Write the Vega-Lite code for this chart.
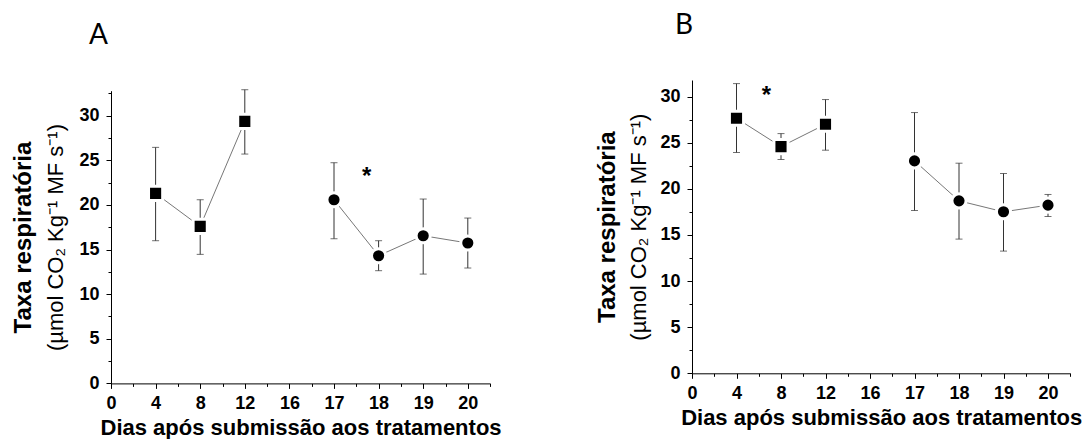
{
  "$schema": "https://vega.github.io/schema/vega-lite/v6.json",
  "background": "white",
  "padding": {"left": 11, "top": 12, "right": 0, "bottom": 0},
  "config": {
    "view": {"stroke": null},
    "font": "Liberation Sans",
    "axis": {"grid": false, "domainColor": "black", "tickColor": "black", "labelColor": "black", "titleColor": "black", "labelFont": "Liberation Sans", "titleFont": "Liberation Sans", "labelFontWeight": "bold", "labelFontSize": 18, "labelFlush": false, "labelOverlap": false}
  },
  "bounds": "flush",
  "spacing": 201,
  "hconcat": [
    {
      "width": 379.1,
      "height": 303.4,
      "title": {"text": "A", "anchor": "start", "frame": "group", "font": "Lato", "fontSize": 28, "fontWeight": "normal", "color": "black", "dx": -22, "offset": 30},
      "data": {"values": [
        {"dia": 4, "taxa": 21.29, "lo": 15.99, "hi": 26.45, "grupo": "1"},
        {"dia": 8, "taxa": 17.59, "lo": 14.46, "hi": 20.58, "grupo": "1"},
        {"dia": 12, "taxa": 29.36, "lo": 25.70, "hi": 32.91, "grupo": "1"},
        {"dia": 17, "taxa": 20.58, "lo": 16.21, "hi": 24.73, "grupo": "2"},
        {"dia": 18, "taxa": 14.31, "lo": 12.63, "hi": 15.99, "grupo": "2"},
        {"dia": 19, "taxa": 16.55, "lo": 12.25, "hi": 20.66, "grupo": "2"},
        {"dia": 20, "taxa": 15.73, "lo": 12.93, "hi": 18.53, "grupo": "2"}
      ]},
      "resolve": {"axis": {"x": "independent", "y": "independent"}},
      "layer": [
        {
          "mark": {"type": "point", "opacity": 0},
          "encoding": {
            "x": {"field": "dia", "type": "quantitative", "scale": {"domain": [0, 16, 20, 20.5], "range": [0, 178.4, 356.8, 379.1], "nice": false, "zero": false},
              "axis": {"orient": "bottom", "values": [2, 6, 10, 14, 16.5, 17.5, 18.5, 19.5, 20.5], "labels": false, "domain": false, "tickSize": 3, "title": null}},
            "y": {"field": "taxa", "type": "quantitative", "scale": {"domain": [0, 32.8], "range": [303.4, 10.7], "nice": false, "zero": false},
              "axis": {"orient": "left", "values": [2.5, 7.5, 12.5, 17.5, 22.5, 27.5, 32.5], "labels": false, "domain": false, "tickSize": 3, "title": "Taxa respiratória", "titleFontSize": 24, "titleFontWeight": "bold", "titlePadding": 72}}
          }
        },
        {
          "mark": {"type": "rule", "color": "#333333", "strokeWidth": 1},
          "encoding": {
            "x": {"field": "dia", "type": "quantitative",
              "axis": {"orient": "bottom", "values": [0, 4, 8, 12, 16, 17, 18, 19, 20], "tickSize": 5, "labelPadding": 6, "title": "Dias após submissão aos tratamentos", "titleFontSize": 22, "titleFontWeight": "bold", "titlePadding": 5}},
            "y": {"field": "lo", "type": "quantitative",
              "axis": {"orient": "left", "values": [0, 5, 10, 15, 20, 25, 30], "tickSize": 5, "labelPadding": 7, "title": "(µmol CO₂ Kg⁻¹ MF s⁻¹)", "titleFontSize": 22, "titleFontWeight": "normal", "titlePadding": 11}},
            "y2": {"field": "hi"}
          }
        },
        {
          "mark": {"type": "tick", "orient": "horizontal", "size": 7, "thickness": 1, "color": "#333333"},
          "encoding": {"x": {"field": "dia", "type": "quantitative", "axis": null}, "y": {"field": "lo", "type": "quantitative", "axis": null}}
        },
        {
          "mark": {"type": "tick", "orient": "horizontal", "size": 7, "thickness": 1, "color": "#333333"},
          "encoding": {"x": {"field": "dia", "type": "quantitative", "axis": null}, "y": {"field": "hi", "type": "quantitative", "axis": null}}
        },
        {
          "mark": {"type": "line", "color": "#777777", "strokeWidth": 1},
          "encoding": {"x": {"field": "dia", "type": "quantitative", "axis": null}, "y": {"field": "taxa", "type": "quantitative", "axis": null}, "detail": {"field": "grupo"}}
        },
        {
          "mark": {"type": "point", "filled": true, "fill": "black", "stroke": "white", "strokeWidth": 3, "size": 200, "opacity": 1},
          "encoding": {"x": {"field": "dia", "type": "quantitative", "axis": null}, "y": {"field": "taxa", "type": "quantitative", "axis": null},
            "shape": {"field": "grupo", "type": "nominal", "scale": {"domain": ["1", "2"], "range": ["square", "circle"]}, "legend": null}}
        },
        {
          "data": {"values": [{"dia": 17.73, "taxa": 23.83, "sinal": "*"}]},
          "mark": {"type": "text", "font": "Liberation Sans", "fontWeight": "bold", "fontSize": 24, "baseline": "middle", "dy": 6.5, "color": "black"},
          "encoding": {"x": {"field": "dia", "type": "quantitative", "axis": null}, "y": {"field": "taxa", "type": "quantitative", "axis": null}, "text": {"field": "sinal"}}
        }
      ]
    },
    {
      "width": 378.3,
      "height": 293.3,
      "title": {"text": "B", "anchor": "start", "frame": "group", "font": "Lato", "fontSize": 28, "fontWeight": "normal", "color": "black", "dx": -17, "offset": 40},
      "data": {"values": [
        {"dia": 4, "taxa": 27.65, "lo": 23.94, "hi": 31.41, "grupo": "1"},
        {"dia": 8, "taxa": 24.58, "lo": 23.18, "hi": 25.99, "grupo": "1"},
        {"dia": 12, "taxa": 27.0, "lo": 24.19, "hi": 29.68, "grupo": "1"},
        {"dia": 17, "taxa": 23.03, "lo": 17.65, "hi": 28.27, "grupo": "2"},
        {"dia": 18, "taxa": 18.7, "lo": 14.55, "hi": 22.78, "grupo": "2"},
        {"dia": 19, "taxa": 17.51, "lo": 13.25, "hi": 21.66, "grupo": "2"},
        {"dia": 20, "taxa": 18.23, "lo": 17.0, "hi": 19.39, "grupo": "2"}
      ]},
      "resolve": {"axis": {"x": "independent", "y": "independent"}},
      "layer": [
        {
          "mark": {"type": "point", "opacity": 0},
          "encoding": {
            "x": {"field": "dia", "type": "quantitative", "scale": {"domain": [0, 16, 20, 20.5], "range": [0, 178, 356, 378.3], "nice": false, "zero": false},
              "axis": {"orient": "bottom", "values": [2, 6, 10, 14, 16.5, 17.5, 18.5, 19.5, 20.5], "labels": false, "domain": false, "tickSize": 3, "title": null}},
            "y": {"field": "taxa", "type": "quantitative", "scale": {"domain": [0, 31.8], "nice": false, "zero": false},
              "axis": {"orient": "left", "values": [2.5, 7.5, 12.5, 17.5, 22.5, 27.5], "labels": false, "domain": false, "tickSize": 3, "title": "Taxa respiratória", "titleFontSize": 24, "titleFontWeight": "bold", "titlePadding": 69}}
          }
        },
        {
          "mark": {"type": "rule", "color": "#333333", "strokeWidth": 1},
          "encoding": {
            "x": {"field": "dia", "type": "quantitative",
              "axis": {"orient": "bottom", "values": [0, 4, 8, 12, 16, 17, 18, 19, 20], "tickSize": 5, "labelPadding": 6, "title": "Dias após submissão aos tratamentos", "titleFontSize": 22, "titleFontWeight": "bold", "titlePadding": 5}},
            "y": {"field": "lo", "type": "quantitative",
              "axis": {"orient": "left", "values": [0, 5, 10, 15, 20, 25, 30], "tickSize": 5, "labelPadding": 7, "title": "(µmol CO₂ Kg⁻¹ MF s⁻¹)", "titleFontSize": 22, "titleFontWeight": "normal", "titlePadding": 9.5}},
            "y2": {"field": "hi"}
          }
        },
        {
          "mark": {"type": "tick", "orient": "horizontal", "size": 7, "thickness": 1, "color": "#333333"},
          "encoding": {"x": {"field": "dia", "type": "quantitative", "axis": null}, "y": {"field": "lo", "type": "quantitative", "axis": null}}
        },
        {
          "mark": {"type": "tick", "orient": "horizontal", "size": 7, "thickness": 1, "color": "#333333"},
          "encoding": {"x": {"field": "dia", "type": "quantitative", "axis": null}, "y": {"field": "hi", "type": "quantitative", "axis": null}}
        },
        {
          "mark": {"type": "line", "color": "#777777", "strokeWidth": 1},
          "encoding": {"x": {"field": "dia", "type": "quantitative", "axis": null}, "y": {"field": "taxa", "type": "quantitative", "axis": null}, "detail": {"field": "grupo"}}
        },
        {
          "mark": {"type": "point", "filled": true, "fill": "black", "stroke": "white", "strokeWidth": 3, "size": 200, "opacity": 1},
          "encoding": {"x": {"field": "dia", "type": "quantitative", "axis": null}, "y": {"field": "taxa", "type": "quantitative", "axis": null},
            "shape": {"field": "grupo", "type": "nominal", "scale": {"domain": ["1", "2"], "range": ["square", "circle"]}, "legend": null}}
        },
        {
          "data": {"values": [{"dia": 6.7, "taxa": 30.8, "sinal": "*"}]},
          "mark": {"type": "text", "font": "Liberation Sans", "fontWeight": "bold", "fontSize": 24, "baseline": "middle", "dy": 6.5, "color": "black"},
          "encoding": {"x": {"field": "dia", "type": "quantitative", "axis": null}, "y": {"field": "taxa", "type": "quantitative", "axis": null}, "text": {"field": "sinal"}}
        }
      ]
    }
  ]
}
